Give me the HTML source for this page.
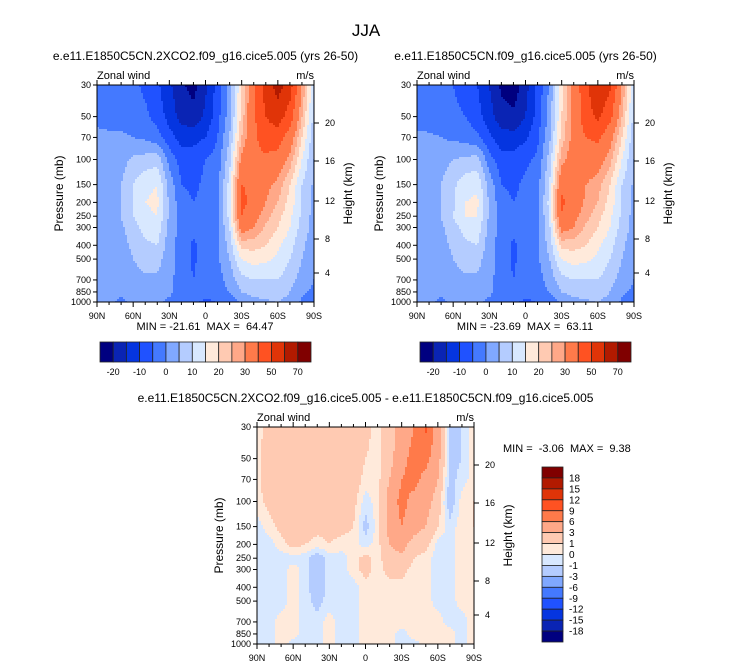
<!DOCTYPE html>
<html><head><meta charset="utf-8"><style>
body{margin:0;background:#fff}
svg{display:block;font-family:"Liberation Sans",Arial,sans-serif}
text{white-space:pre}
</style></head><body>
<svg id="fig" width="733" height="668" viewBox="0 0 733 668" xmlns="http://www.w3.org/2000/svg">
<text x="366" y="36" font-size="17" text-anchor="middle">JJA</text>
</svg>
<script>
const lats=["90N","80N","70N","60N","50N","40N","30N","20N","10N","0","10S","20S","30S","40S","50S","60S","70S","80S","90S"];
const pLevels=[30,50,70,100,150,200,250,300,400,500,700,850,1000];
const heightTicks=[20,16,12,8,4];
const xTickLabels=["90N","60N","30N","0","30S","60S","90S"];
const windLevels=[-20,-15,-10,-5,0,5,10,15,20,25,30,40,50,60,70];
const windBarLabels=["-20","-10","0","10","20","30","50","70"];
const diffLevels=[-18,-15,-12,-9,-6,-3,-1,0,1,3,6,9,12,15,18];
const diffBarLabels=["18","15","12","9","6","3","1","0","-1","-3","-6","-9","-12","-15","-18"];
const colors=["#000080","#0a24b4","#0535e0","#2052ff","#4479ff","#80a8ff","#b4ccff","#d8e8ff","#ffeadb","#ffcab2","#ffa888","#ff7a4a","#ff5222","#e03408","#b21a00","#800000"];
const field2x=[
[-2,-2,-3,-4,-6,-9,-14,-19,-22,-16,-8,2,20,38,55,64,55,30,10],
[-1,-2,-2,-3,-4,-7,-12,-17,-18,-14,-7,3,22,38,50,55,45,25,8],
[1,1,1,0,-1,-3,-8,-12,-12,-10,-5,5,25,38,45,45,35,20,6],
[1,1,3,6,7,8,-2,-7,-7,-5,-3,8,32,38,38,36,28,15,5],
[1,2,5,10,14,15,3,-5,-6,-4,-2,12,40,38,32,28,20,10,4],
[1,2,5,10,15,16,4,-3,-5,-4,-2,13,43,36,30,25,18,10,3],
[1,2,5,10,14,15,4,-3,-4,-3,-2,12,40,33,27,22,16,9,3],
[1,2,4,8,12,13,3,-2,-3,-3,-1,10,34,30,24,20,15,8,3],
[1,1,3,6,9,10,2,-2,-6,-3,-1,7,22,22,20,16,12,6,2],
[1,1,2,5,7,7,2,-2,-6,-2,-1,5,15,17,16,14,10,5,2],
[1,1,1,3,4,4,1,-2,-5,-2,-2,2,8,10,10,10,7,3,0],
[1,1,1,2,3,2,1,-2,-4,-3,-2,0,5,7,8,8,5,1,-1],
[1,1,-1,1,1,1,-1,-3,-4,-6,-5,-3,1,3,4,5,3,-1,-3]];
const fieldCtl=[
[-2,-3,-4,-5,-7,-10,-15,-21,-23,-17,-9,1,18,33,47,60,52,30,10],
[-2,-3,-3,-4,-5,-8,-13,-18,-19,-15,-8,2,20,33,45,52,43,25,8],
[1,1,0,-1,-2,-4,-9,-13,-13,-11,-6,4,22,33,40,42,33,20,6],
[1,1,3,5,6,7,-3,-8,-8,-6,-4,7,28,34,35,34,27,15,5],
[1,2,5,9,13,14,3,-5,-6,-4,-2,10,37,35,30,27,20,10,4],
[1,2,5,9,15,16,4,-3,-5,-4,-2,12,42,35,29,25,18,10,3],
[1,2,5,10,15,15,4,-3,-4,-4,-2,11,39,32,27,22,16,9,3],
[1,2,4,8,12,13,3,-2,-3,-3,-1,9,33,30,24,20,15,8,3],
[1,1,3,6,9,10,2,-2,-6,-3,-1,7,22,22,20,16,12,6,2],
[1,1,2,5,7,7,2,-2,-6,-2,-1,5,15,17,16,14,10,5,2],
[1,1,1,3,4,4,1,-2,-5,-2,-2,2,8,10,10,10,7,3,0],
[1,1,1,2,3,2,1,-2,-4,-3,-2,0,5,7,8,8,5,1,-1],
[1,1,-1,1,1,1,-1,-3,-4,-6,-5,-3,1,3,4,5,3,-1,-3]];
const fieldDiff=[
[0.5,1.5,2,2,2,2,2,2,2,1.5,0.5,2,4,6,9.5,4,-1.5,-1,0.5],
[0.5,2,2,2,2,2,2,2,2,1,0.5,2,5,7,7,4,-1.5,-1,0.5],
[0.5,2,2,2,2,2,2,2,2,0.5,0.5,3,6,7,5,3,-1.5,-0.5,0.5],
[0.5,1.5,2,2,2,2,2,2,1.5,-0.5,0.5,4,7,5,4,2,-2,0.5,1],
[-0.5,0.5,1.5,2,2,1.5,1.5,1.5,1,-1.5,0.5,4,6,4,3,1,-0.5,0.5,1],
[-0.5,-0.5,0.5,1.5,1,0.5,1,0.5,0.5,-0.5,0.5,3,4,2,1.5,-0.5,-0.5,0.5,0.5],
[-0.5,-0.5,-0.5,-0.5,-0.5,-2,-0.5,-0.5,0.5,1.5,0.5,2,2.5,1,0.5,-0.5,-0.5,0.5,0.5],
[-0.5,-0.5,-0.5,0.5,-0.5,-2,-0.5,-0.5,0.5,1.5,0.5,1.5,1.5,0.5,0.5,-0.5,-0.5,0.5,0.5],
[-0.5,-0.5,-0.5,0.5,-0.5,-2,-0.5,-0.5,-0.5,0.5,0.5,0.5,0.5,0.5,0.5,-0.5,-0.5,0.5,0.5],
[-0.5,-0.5,-0.5,0.5,-0.5,-1.5,-0.5,-0.5,-0.5,0.5,0.5,0.5,0.5,0.5,0.5,-0.5,-0.5,0.5,0.5],
[-0.5,-0.5,0.5,0.5,-0.5,-0.5,0.5,-0.5,-0.5,0.5,0.5,0.5,0.5,0.5,0.5,0.5,-0.5,-0.5,0.5],
[-0.5,-0.5,0.5,0.5,-0.5,-0.5,0.5,-0.5,-0.5,0.5,0.5,0.5,-0.5,0.5,0.5,0.5,0.5,-0.5,0.5],
[-0.5,-0.5,0.5,-0.5,-0.5,-0.5,0.5,-0.5,-0.5,0.5,0.5,0.5,-0.5,-0.5,0.5,0.5,0.5,-0.5,0.5]];

const NS="http://www.w3.org/2000/svg";
const svg=document.getElementById('fig');
function mk(tag,attrs,parent,txt){const e=document.createElementNS(NS,tag);for(const k in attrs)e.setAttribute(k,attrs[k]);if(txt!==undefined)e.textContent=txt;(parent||svg).appendChild(e);return e;}
function levelIndex(v,levels){let i=0;while(i<levels.length&&v>=levels[i])i++;return i;}
const LP0=Math.log(30),LP1=Math.log(1000);

function drawPanel(name,px,py,w,h,data,levels,title,minmax,mmPos){
  const g=mk('g',{});
  
  
  const yOfP=p=>py+(Math.log(p)-LP0)/(LP1-LP0)*h;
  const xOfLat=i=>px+i/(lats.length-1)*w;
  const step=2, nx=Math.ceil(w/step), ny=Math.ceil(h/step);
  const lp=pLevels.map(p=>Math.log(p));
  for(let r=0;r<ny;r++){
    const y0=py+r*step, hh=Math.min(step,py+h-y0);
    const lv=LP0+((y0+hh/2-py)/h)*(LP1-LP0);
    let k=0;while(k<lp.length-2&&lv>lp[k+1])k++;
    let t=(lv-lp[k])/(lp[k+1]-lp[k]);t=Math.max(0,Math.min(1,t));
    let runStart=0,runC=-1;
    for(let c=0;c<=nx;c++){
      let ci=-2;
      if(c<nx){
        const xc=(c*step+step/2)/w*(lats.length-1);
        let j=Math.min(lats.length-2,Math.floor(xc));let u=Math.max(0,Math.min(1,xc-j));
        const v=(1-t)*((1-u)*data[k][j]+u*data[k][j+1])+t*((1-u)*data[k+1][j]+u*data[k+1][j+1]);
        ci=levelIndex(v,levels);
      }
      if(ci!==runC){
        if(runC>=0){
          const x0=px+runStart*step, x1=Math.min(px+c*step,px+w);
          const rc=mk('rect',{x:x0,y:y0,width:x1-x0+0.4,height:hh+0.4,fill:colors[runC]},g);
          
          
        }
        runC=ci;runStart=c;
      }
    }
  }
  const fr=mk('rect',{x:px,y:py,width:w,height:h,fill:'none',stroke:'#000','stroke-width':1},g);
  
  
  for(let i=0;i<lats.length;i++){
    const x=xOfLat(i), major=i%3===0, L=major?5:3;
    mk('line',{x1:x,x2:x,y1:py+h,y2:py+h+L,stroke:'#000','stroke-width':1},g);
    mk('line',{x1:x,x2:x,y1:py,y2:py-L,stroke:'#000','stroke-width':1},g);
    if(major){
      const tl=mk('text',{x:x,y:py+h+17,'font-size':9,'text-anchor':'middle'},g,xTickLabels[i/3]);
      
      
    }
  }
  pLevels.forEach(p=>{
    const y=yOfP(p);
    mk('line',{x1:px-4,x2:px,y1:y,y2:y,stroke:'#000','stroke-width':1},g);
    const tl=mk('text',{x:px-6,y:y+3,'font-size':9,'text-anchor':'end'},g,String(p));
    
    
  });
  const hFrac={20:38,16:76,12:116,8:154,4:188};
  heightTicks.forEach(z=>{
    const y=py+hFrac[z]/217*h;
    mk('line',{x1:px+w,x2:px+w+5,y1:y,y2:y,stroke:'#000','stroke-width':1},g);
    const tl=mk('text',{x:px+w+11,y:y+3,'font-size':9},g,String(z));
    
    
  });
  const yl=mk('text',{x:0,y:0,'font-size':12,'text-anchor':'middle',transform:`translate(${px-34},${py+h/2}) rotate(-90)`},g,'Pressure (mb)');
  
  
  const hl=mk('text',{x:0,y:0,'font-size':12,'text-anchor':'middle',transform:`translate(${px+w+38},${py+h/2}) rotate(-90)`},g,'Height (km)');
  
  
  const zl=mk('text',{x:px,y:py-6,'font-size':11},g,'Zonal wind');
  
  
  const ul=mk('text',{x:px+w,y:py-6,'font-size':11,'text-anchor':'end'},g,'m/s');
  
  
  const tt=mk('text',{x:px+w/2,y:py-25,'font-size':12,'text-anchor':'middle'},g,title);
  
  
  const mm=mk('text',{x:mmPos[0],y:mmPos[1],'font-size':11,'text-anchor':mmPos[2]},g,minmax);
  
  
}
function hBar(name,x,y,w,h){
  const g=mk('g',{});
  
  
  const bw=w/colors.length;
  colors.forEach((c,i)=>{
    const r=mk('rect',{x:x+i*bw,y:y,width:bw,height:h,fill:c,stroke:'#222','stroke-width':0.8},g);
    
    
  });
  windBarLabels.forEach((l,i)=>{
    const t=mk('text',{x:x+(1+2*i)*bw,y:y+h+13,'font-size':9,'text-anchor':'middle'},g,l);
    
    
  });
}
function vBar(name,x,y,w,h){
  const g=mk('g',{});
  
  
  const bh=h/colors.length;
  colors.slice().reverse().forEach((c,i)=>{
    const r=mk('rect',{x:x,y:y+i*bh,width:w,height:bh,fill:c,stroke:'#222','stroke-width':0.8},g);
    
    
  });
  diffBarLabels.forEach((l,i)=>{
    const t=mk('text',{x:x+w+6,y:y+(i+1)*bh+3.5,'font-size':10},g,l);
    
    
  });
}
drawPanel('panel-2xco2',97,85,217,217,field2x,windLevels,'e.e11.E1850C5CN.2XCO2.f09_g16.cice5.005 (yrs 26-50)','MIN = -21.61  MAX =  64.47',[205,330,'middle']);
drawPanel('panel-control',417,85,217,217,fieldCtl,windLevels,'e.e11.E1850C5CN.f09_g16.cice5.005 (yrs 26-50)','MIN = -23.69  MAX =  63.11',[525,330,'middle']);
hBar('colorbar-left',100,342,211,20);
hBar('colorbar-right',420,342,211,20);
drawPanel('panel-difference',257,427,217,217,fieldDiff,diffLevels,'e.e11.E1850C5CN.2XCO2.f09_g16.cice5.005 - e.e11.E1850C5CN.f09_g16.cice5.005','MIN =  -3.06  MAX =  9.38',[503,452,'start']);
vBar('colorbar-difference',542,467,21,175);
</script>
</body></html>
